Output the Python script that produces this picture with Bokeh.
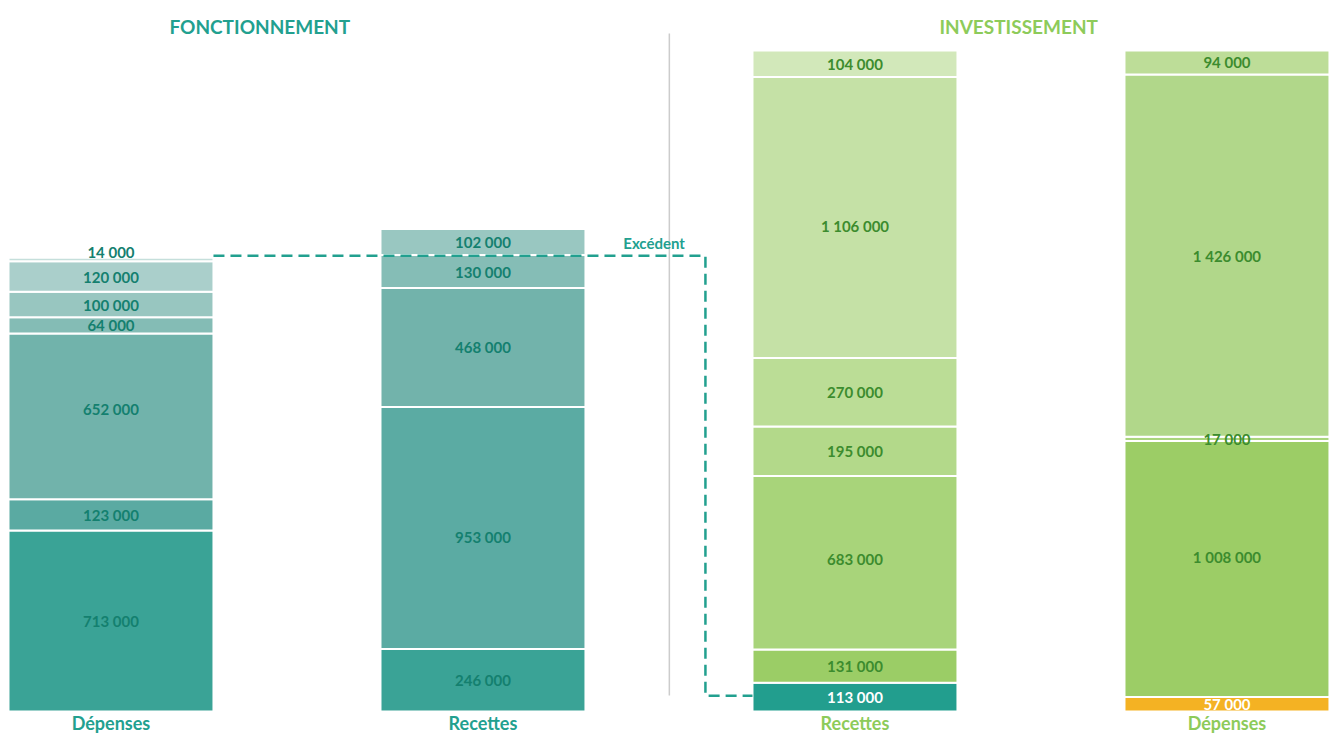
from bokeh.plotting import figure
from bokeh.models import ColumnDataSource, Range1d
from bokeh.core.properties import value
from bokeh.embed import file_html
from bokeh.resources import INLINE
import numpy as np

# ---- data (thousands of euros), bottom -> top ----
bar_names = ["Dépenses", "Recettes", "Recettes", "Dépenses"]
sections = ["FONCTIONNEMENT", "INVESTISSEMENT"]
fonct_depenses = [713, 123, 652, 64, 100, 120, 14]
fonct_recettes = [246, 953, 468, 130, 102]
invest_recettes = [113, 131, 683, 195, 270, 1106, 104]
invest_depenses = [57, 1008, 17, 1426, 94]
excedent_label = "Excédent"
excedent_value = 113

# ---- styles ----
fonct_dep_colors = ["#3AA396", "#5AAAA2", "#71B3AB", "#84BCB5", "#98C6C0", "#AACFCB", "#C5DFDB"]
fonct_rec_colors = ["#3AA396", "#5BABA3", "#72B3AB", "#85BDB6", "#99C7C1"]
inv_rec_colors = ["#229E8E", "#9BCD66", "#A8D47A", "#B3D98A", "#BBDD96", "#C5E1A6", "#D2E8BA"]
inv_dep_colors = ["#F4B223", "#9CCD66", "#A9D47C", "#B1D78A", "#BDDD98"]
fonct_text = "#14806F"
inv_text = "#3C8C2E"
teal = "#22A08F"
green = "#8DCB5A"
FONT = "Lato"
# label vertical nudges (data units) per bar, bottom -> top
label_nudges = [[0, 0, 27, 0, 0, 0, 28],
                [0, -37, 0, 0, 0],
                [0, 0, 16, 0, 0, -35, 0],
                [0, 49, 0, 0, 0]]

bars = [
    (fonct_depenses, fonct_dep_colors, [fonct_text] * 7),
    (fonct_recettes, fonct_rec_colors, [fonct_text] * 5),
    (invest_recettes, inv_rec_colors, ["#FFFFFF"] + [inv_text] * 6),
    (invest_depenses, inv_dep_colors, ["#FFFFFF"] + [inv_text] * 4),
]

BW = 0.551
p = figure(width=1331, height=734, output_backend="svg", toolbar_location=None,
           x_range=Range1d(-0.297, 3.281), y_range=Range1d(-90.5, 2798.9),
           min_border=0)
p.xaxis.visible = False
p.yaxis.visible = False
p.grid.visible = False
p.outline_line_color = None
p.background_fill_color = "white"

def fmt(v):
    return f"{v * 1000:,}".replace(",", " ")

for i, (vals, cols, tcols) in enumerate(bars):
    v = np.array(vals)
    top = np.cumsum(v)
    bottom = top - v
    src = ColumnDataSource(dict(x=[i] * len(v), bottom=bottom, top=top, color=cols,
                                mid=(top + bottom) / 2 + np.array(label_nudges[i]),
                                label=[fmt(a) for a in vals], tcol=tcols))
    p.vbar(x="x", bottom="bottom", top="top", width=BW, fill_color="color",
           line_color="white", line_width=2, source=src)
    p.text(x="x", y="mid", text="label", text_color="tcol", source=src,
           text_align="center", text_baseline="middle", text_font=value(FONT),
           text_font_style="bold", text_font_size="15px")

# category labels
cat_colors = [teal, teal, green, green]
p.text(x=list(range(4)), y=[-46] * 4, text=bar_names, text_color=cat_colors,
       text_align="center", text_baseline="middle", text_font=value(FONT),
       text_font_style="bold", text_font_size="18px")

# section titles
p.text(x=[0.40, 2.44], y=[2696] * 2, text=sections, text_color=[teal, green],
       text_align="center", text_baseline="middle", text_font=value(FONT),
       text_font_style="bold", text_font_size="19px")

# divider
p.segment(x0=[1.501], y0=[63], x1=[1.501], y1=[2669], line_color="#CCCCCC", line_width=1.5)

# excedent dashed connector
fd_total = sum(fonct_depenses)
x_turn = 1.598
y_bottom = excedent_value / 2
p.line(x=[BW / 2, x_turn, x_turn, 2 - BW / 2],
       y=[fd_total + 8, fd_total + 8, y_bottom + 6, y_bottom + 6],
       line_color=teal, line_width=2.5, line_dash="11 6")
p.text(x=[1.46], y=[1846], text=[excedent_label], text_color=teal,
       text_align="center", text_baseline="middle", text_font=value(FONT),
       text_font_style="bold", text_font_size="15px")

open("out.html", "w").write(file_html(p, INLINE))
